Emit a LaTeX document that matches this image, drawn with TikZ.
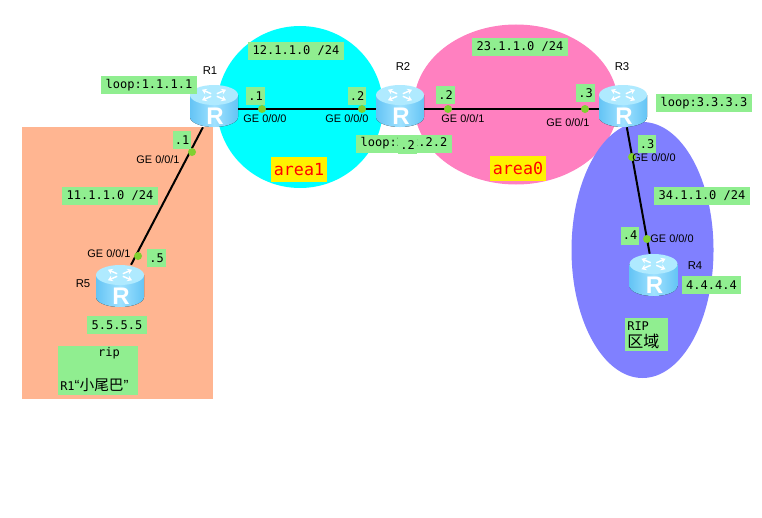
\documentclass[tikz,border=0pt]{standalone}
\usepackage{fontspec}
\setmainfont{Liberation Sans}
\setmonofont{DejaVu Sans Mono}
\newfontfamily\cjkfont{Noto Sans CJK SC}
\definecolor{areacyan}{RGB}{0,255,255}
\definecolor{areapink}{RGB}{255,128,192}
\definecolor{areablue}{RGB}{128,128,255}
\definecolor{tailorange}{RGB}{255,181,145}
\definecolor{lblgreen}{RGB}{144,238,144}
\definecolor{portgreen}{RGB}{128,208,48}
\definecolor{routerside}{RGB}{100,196,245}
\definecolor{routermid}{RGB}{160,226,255}
\definecolor{routertop}{RGB}{175,234,255}
\usetikzlibrary{positioning,arrows.meta}

\begin{document}
\begin{tikzpicture}[
    x=0.75pt, y=-0.75pt,
    area/.style={draw=none, inner sep=0pt},
    router/.style={inner sep=0pt, minimum width=36pt, minimum height=31.5pt,
        path picture={
            \begin{scope}[shift={(path picture bounding box.center)}]
            \fill[left color=routerside, right color=routerside, middle color=routermid]
                (-24,-11) -- (-24,11) arc[start angle=180, end angle=0, x radius=24, y radius=10]
                -- (24,-11) -- cycle;
            \fill[routertop] (0,-11) ellipse[x radius=24, y radius=10];
            \foreach \ang in {45,135,225,315}
                \draw[white, line width=1.1pt, -{Stealth[length=3.5pt,width=4.5pt]}]
                    (0,-11) ++(\ang:4 and 1.8) -- ++(\ang:13 and 5.6);
            \node[white, inner sep=0pt, font=\fontsize{18}{18}\selectfont\bfseries] at (1,10) {R};
            \end{scope}
        }},
    lbl/.style={fill=lblgreen, font=\ttfamily\fontsize{9}{10}\selectfont,
                inner xsep=1.6pt, inner ysep=0pt, minimum height=13.5pt},
    addr/.style={lbl, inner xsep=3.4pt},
    arealbl/.style={fill=yellow, text=red, font=\ttfamily\fontsize{12.5}{13}\selectfont,
                inner xsep=2pt, inner ysep=0pt, minimum height=18.5pt},
    iface/.style={font=\fontsize{8.2}{9}\selectfont, inner sep=0pt},
    rname/.style={font=\fontsize{8.5}{9}\selectfont, inner sep=0pt},
    port/.style={circle, fill=portgreen, inner sep=0pt, minimum size=6pt},
    link/.style={line width=1.5pt, black},
]
\useasboundingbox (0,0) rectangle (762,517);

% --- AREAS ---
\node[area, fill=tailorange, minimum width=143.25pt, minimum height=204pt] (tail) at (117.5,263) {};
\draw[area, fill=areacyan] (300,107) ellipse[x radius=83, y radius=81];
\draw[area, fill=areapink] (516,104.5) ellipse[x radius=102, y radius=80];
\draw[area, fill=areablue] (642.5,250) ellipse[x radius=71, y radius=128];

% --- ROUTERS ---
\node[router] (R1) at (214,106) {};
\node[router] (R2) at (400,106) {};
\node[router] (R3) at (623,106) {};
\node[router] (R4) at (653.5,275) {};
\node[router] (R5) at (120,286) {};

\node[rname] at (210,71) {R1};
\node[rname] at (403,67) {R2};
\node[rname] at (622,67) {R3};
\node[rname] at (695,266) {R4};
\node[rname] at (83,284) {R5};

% --- LINKS ---
\draw[link] ([yshift=-2.25pt]R1.east) -- ([yshift=-2.25pt]R2.west);
\draw[link] ([yshift=-2.25pt]R2.east) -- ([yshift=-2.25pt]R3.west);
\draw[link] (R1) -- (R5);
\draw[link] (R3) -- (R4);

% --- PORTS ---
\node[port] (p1) at (262,109) {};
\node[port] (p2) at (362,109) {};
\node[port] (p3) at (448,109) {};
\node[port] (p4) at (585,109) {};
\node[port] (p5) at (192,152) {};
\node[port] (p6) at (138,256) {};
\node[port] (p7) at (632,157) {};
\node[port] (p8) at (647,239) {};

% --- INTERFACES ---
\node[iface] at (265,119) {GE 0/0/0};
\node[iface] at (347,119) {GE 0/0/0};
\node[iface] at (463,119) {GE 0/0/1};
\node[iface] at (568,123) {GE 0/0/1};
\node[iface] at (158,160) {GE 0/0/1};
\node[iface] at (109,254) {GE 0/0/1};
\node[iface] at (654,158) {GE 0/0/0};
\node[iface] at (672,239) {GE 0/0/0};

% --- ADDRESS LABELS ---
\node[addr] at (296,51) {12.1.1.0 /24};
\node[addr] at (520,47) {23.1.1.0 /24};
\node[addr] at (110,196) {11.1.1.0 /24};
\node[addr] at (702,196) {34.1.1.0 /24};
\node[addr] at (149,85) {loop:1.1.1.1};
\node[addr] at (404,143.5) {loop:2.2.2.2};
\node[addr] at (704,103) {loop:3.3.3.3};
\node[addr] at (711.5,285) {4.4.4.4};
\node[addr] at (117,325) {5.5.5.5};

\node[lbl] at (255.5,96) {.1};
\node[lbl] at (357,96) {.2};
\node[lbl] at (407.5,145) {.2};
\node[lbl] at (445.5,95) {.2};
\node[lbl] at (585.5,93) {.3};
\node[lbl] at (182,140) {.1};
\node[lbl] at (156.5,258) {.5};
\node[lbl] at (647,144) {.3};
\node[lbl] at (630,235.5) {.4};

\node[arealbl] at (299,169.5) {area1};
\node[arealbl] at (518,168.5) {area0};

% --- NOTES ---
\node[fill=lblgreen, minimum width=60pt, minimum height=36.75pt, inner sep=0pt] (ripnote) at (98,370) {};
\node[font=\ttfamily\fontsize{9}{10}\selectfont, inner sep=0pt] at (109,353) {rip};
\node[anchor=west, inner sep=0pt] at (60,385)
    {{\ttfamily\fontsize{9}{10}\selectfont R1}{\fontsize{11}{12}\selectfont “\cjkfont 小尾巴\rmfamily ”}};
\node[fill=lblgreen, minimum width=32.25pt, minimum height=24.75pt, inner sep=0pt] (ripbox) at (646.5,334.5) {};
\node[anchor=west, font=\ttfamily\fontsize{9}{10}\selectfont, inner sep=0pt] at (627,326) {RIP};
\node[anchor=west, font=\cjkfont\fontsize{12}{13}\selectfont, inner sep=0pt] at (627,341) {区域};

\end{tikzpicture}
\end{document}
